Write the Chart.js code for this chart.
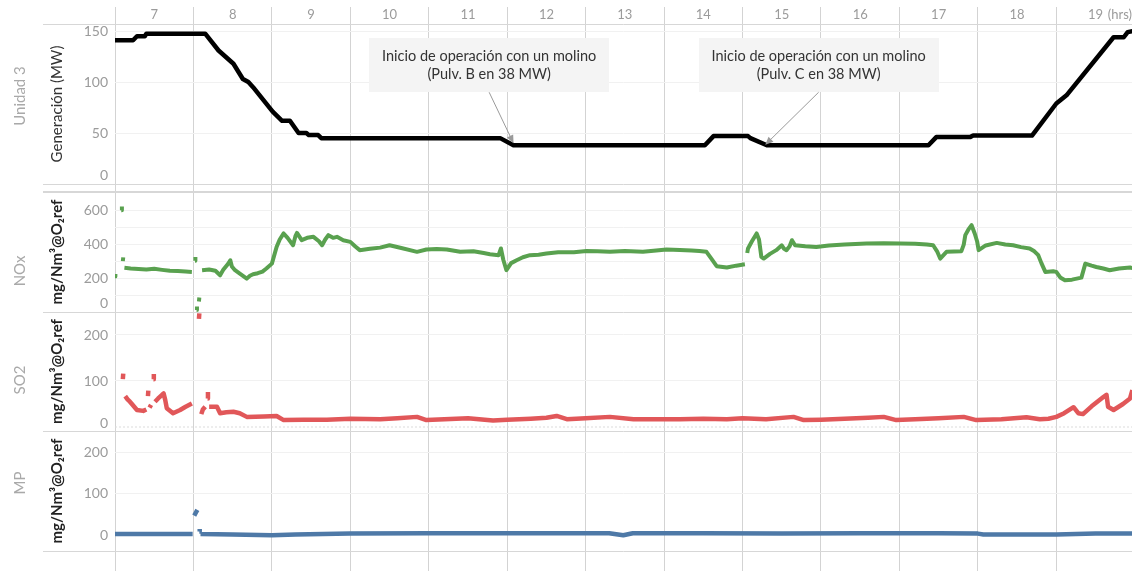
<!DOCTYPE html>
<html lang="es">
<head>
<meta charset="utf-8">
<title>Unidad 3 – generación y emisiones</title>
<script src="https://cdn.jsdelivr.net/npm/chart.js@4.4.1/dist/chart.umd.min.js"></script>
<style>
  html, body { margin: 0; padding: 0; background: #fff; }
  #lienzo { display: block; }
</style>
</head>
<body>
<canvas id="lienzo" width="1132" height="571"></canvas>
<script>
// ---- Datos ----------------------------------------------------------------
const horas = [7, 8, 9, 10, 11, 12, 13, 14, 15, 16, 17, 18, 19];

// Generación de la Unidad 3 (hora, MW)
const generacion = [
  [7.00, 141], [7.23, 141], [7.28, 145], [7.38, 145], [7.40, 147.5], [8.15, 147.5],
  [8.32, 131], [8.51, 118], [8.63, 103], [8.70, 100], [8.76, 95], [9.01, 71], [9.13, 62],
  [9.23, 62], [9.34, 50], [9.44, 50], [9.47, 48], [9.59, 48], [9.63, 45], [11.91, 45],
  [12.08, 38], [14.52, 38], [14.63, 47], [15.07, 47], [15.10, 45], [15.31, 38], [17.37, 38],
  [17.47, 46], [17.90, 46], [17.94, 47.5], [18.69, 47.5], [19.00, 79], [19.13, 87],
  [19.73, 144], [19.86, 144], [19.91, 149], [19.97, 150]
];

// NOx (hora, mg/Nm³@O₂ref); null = sin registro
const nox = [
  [7.000, 210], [7.005, 226], [7.010, null],
  [7.080, 603], [7.088, 626], [7.095, null],
  [7.100, 302], [7.105, 324], [7.110, null],
  [7.12, 262], [7.20, 258], [7.30, 255], [7.40, 252], [7.50, 256], [7.60, 250], [7.70, 245],
  [7.80, 243], [7.90, 240], [7.98, 238], [7.99, null],
  [8.020, 304], [8.025, 326], [8.030, null],
  [8.040, 12], [8.045, 32], [8.050, null],
  [8.070, 62], [8.075, 86], [8.080, null],
  [8.11, 248], [8.20, 252], [8.28, 245], [8.34, 218], [8.38, 250], [8.44, 285], [8.47, 307],
  [8.49, 270], [8.53, 248], [8.60, 225], [8.68, 198], [8.72, 215], [8.76, 224], [8.82, 230],
  [8.88, 240], [8.93, 258], [9.00, 287], [9.06, 386], [9.10, 430], [9.15, 466], [9.20, 440],
  [9.27, 396], [9.30, 450], [9.32, 469], [9.38, 426], [9.45, 440], [9.53, 446], [9.60, 420],
  [9.64, 396], [9.68, 430], [9.72, 456], [9.78, 440], [9.83, 446], [9.91, 426], [10.00, 416],
  [10.06, 390], [10.12, 367], [10.25, 375], [10.38, 382], [10.50, 396], [10.65, 380],
  [10.85, 357], [10.97, 371], [11.10, 374], [11.23, 371], [11.40, 357], [11.57, 361],
  [11.70, 350], [11.78, 343], [11.89, 337], [11.92, 377], [11.95, 310], [11.99, 248],
  [12.05, 290], [12.12, 307], [12.20, 325], [12.29, 337], [12.40, 340], [12.50, 347],
  [12.65, 355], [12.85, 355], [13.01, 362], [13.15, 360], [13.31, 357], [13.50, 362],
  [13.73, 357], [13.90, 365], [14.03, 371], [14.20, 368], [14.35, 365], [14.45, 362],
  [14.54, 357], [14.60, 318], [14.67, 272], [14.80, 264], [14.92, 275], [15.03, 283], [15.045, null],
  [15.06, 350], [15.07, 377], [15.12, 420], [15.18, 466], [15.21, 430], [15.24, 327],
  [15.27, 317], [15.35, 345], [15.43, 367], [15.50, 396], [15.53, 375], [15.56, 367],
  [15.60, 390], [15.63, 426], [15.67, 396], [15.80, 390], [15.94, 386], [16.10, 395],
  [16.30, 400], [16.58, 406], [16.80, 408], [17.01, 406], [17.20, 405], [17.35, 400],
  [17.43, 396], [17.48, 360], [17.52, 317], [17.60, 357], [17.79, 361], [17.82, 400],
  [17.84, 456], [17.88, 490], [17.92, 515], [17.96, 466], [17.99, 420], [18.01, 367],
  [18.10, 395], [18.24, 410], [18.35, 400], [18.45, 396], [18.55, 385], [18.66, 377],
  [18.72, 360], [18.77, 337], [18.81, 290], [18.86, 238], [18.96, 242], [19.00, 238],
  [19.05, 205], [19.11, 188], [19.20, 192], [19.32, 204], [19.37, 287], [19.45, 275],
  [19.51, 267], [19.60, 258], [19.68, 248], [19.80, 258], [19.94, 264], [19.97, 260]
];

// SO2 (hora, mg/Nm³@O₂ref)
const so2 = [
  [7.100, 104], [7.105, 116], [7.110, null],
  [7.13, 67], [7.16, 60], [7.19, 55], [7.21, 51], [7.28, 37], [7.36, 35], [7.40, 38], [7.41, null],
  [7.420, 67], [7.425, 79], [7.430, null],
  [7.44, 42], [7.46, 48], [7.48, null],
  [7.490, 104], [7.495, 115], [7.500, null],
  [7.51, 55], [7.55, 62], [7.60, 70], [7.62, 73], [7.64, 59], [7.66, 41], [7.74, 30],
  [7.83, 37], [7.90, 44], [7.98, 51], [7.99, null],
  [8.070, 235], [8.075, 247], [8.080, null],
  [8.10, 28], [8.12, 38], [8.15, 44], [8.16, null],
  [8.180, 62], [8.185, 76], [8.190, null],
  [8.20, 44], [8.30, 44], [8.34, 30], [8.42, 32], [8.51, 33], [8.59, 30], [8.68, 22],
  [8.90, 23], [9.06, 24], [9.15, 15], [9.40, 16], [9.70, 16], [10.00, 18], [10.38, 17],
  [10.60, 19], [10.85, 22], [10.97, 15], [11.20, 17], [11.50, 19], [11.82, 14], [12.00, 16],
  [12.30, 18], [12.50, 20], [12.63, 24], [12.76, 17], [13.00, 19], [13.31, 22], [13.61, 17],
  [13.90, 17], [14.20, 17], [14.50, 18], [14.80, 17], [15.00, 19], [15.30, 17], [15.65, 22],
  [15.78, 15], [16.00, 16], [16.30, 18], [16.60, 20], [16.80, 22], [16.96, 15], [17.20, 17],
  [17.50, 19], [17.82, 22], [17.98, 15], [18.30, 17], [18.62, 21], [18.79, 17], [18.90, 18],
  [19.00, 22], [19.10, 30], [19.22, 43], [19.28, 30], [19.34, 28], [19.45, 45], [19.60, 65],
  [19.64, 70], [19.66, 44], [19.73, 37], [19.85, 50], [19.94, 62], [19.97, 80]
];

// Material particulado (hora, mg/Nm³@O₂ref)
const mp = [
  [7.00, 4], [7.50, 4], [7.99, 4], [8.00, null],
  [8.01, 48], [8.03, 55], [8.05, 62], [8.06, null],
  [8.075, 10], [8.080, 16], [8.085, null],
  [8.09, 4], [8.50, 3], [9.00, 1], [9.30, 3], [10.00, 5], [11.00, 6], [12.00, 6], [12.50, 6],
  [13.30, 6], [13.48, 1], [13.60, 6], [14.50, 6], [15.50, 5], [16.50, 6], [17.00, 6],
  [17.50, 6], [18.00, 5], [18.07, 3], [18.50, 3], [19.00, 3], [19.50, 5], [19.97, 5]
];

// Marcas de eje
const ticksGen = [0, 50, 100, 150];
const ticksNox = [0, 200, 400, 600];
const lineasNox = [100, 300, 500];
const ticksSo2 = [0, 100, 200];
const ticksMp = [0, 100, 200];

// Textos
const filas = ['Unidad 3', 'NOx', 'SO2', 'MP'];
const tituloGen = 'Generación (MW)';
const tituloEmision = 'mg/Nm³@O₂ref';

// Notas sobre la curva de generación: [hora, MW] del borde superior de la caja y de la punta
const notas = [
  { texto: ['Inicio de operación con un molino', '(Pulv. B en 38 MW)'], caja: [11.77, 143], punta: [12.08, 40] },
  { texto: ['Inicio de operación con un molino', '(Pulv. C en 38 MW)'], caja: [15.97, 143], punta: [15.29, 38.5] }
];

// ---- Estilo ---------------------------------------------------------------
const FUENTE = 'Lato, "Noto Sans", sans-serif';
const GRIS_TEXTO = '#9b9b9b';
const GRIS_FILA = '#a9a9a9';
const GRIS_BORDE = '#d7d7d7';
const GRIS_TENUE = '#f1f1f1';
const GRIS_VERTICAL = '#d3d3d3';
const NADA = 'rgba(0,0,0,0)';
const X_MIN = 7, X_MAX = 19.965;

const pares = arr => arr.map(([x, y]) => ({ x, y }));

// Eje de un panel (columna interior: marcas + título de unidades)
function ejePanel({ peso, alto, min, max, etiquetas, lineas, bordes, grueso, alzaCero, titulo, negrita }) {
  const valores = [...new Set([...lineas, ...bordes, ...etiquetas])].sort((a, b) => a - b);
  const esBorde = c => c.tick && bordes.includes(c.tick.value);
  const esLinea = c => c.tick && lineas.includes(c.tick.value);
  return {
    type: 'linear', position: 'left', stack: 'interior', weight: peso, stackWeight: alto,
    min, max,
    afterBuildTicks: s => { s.ticks = valores.map(v => ({ value: v })); },
    afterFit: s => { s.width = 72; },
    border: { display: false },
    grid: {
      drawTicks: true, tickLength: 72,
      color: c => esBorde(c) ? GRIS_BORDE : (esLinea(c) ? GRIS_TENUE : NADA),
      tickColor: c => esBorde(c) ? GRIS_BORDE : NADA,
      lineWidth: c => (c.tick && c.tick.value === grueso) ? 2 : 1,
      tickWidth: c => (c.tick && c.tick.value === grueso) ? 2 : 1
    },
    ticks: {
      autoSkip: false, padding: -65, color: GRIS_TEXTO,
      font: c => ({ family: FUENTE, size: 14, lineHeight: (c.tick && c.tick.value === 0 && alzaCero) ? alzaCero : 1.2 }),
      callback: v => etiquetas.includes(v) ? ((v === 0 && alzaCero) ? ['0', ''] : String(v)) : ''
    },
    title: {
      display: true, text: titulo, color: negrita ? '#222' : '#333',
      font: { family: FUENTE, size: 15, weight: negrita ? 'bold' : 'normal' },
      padding: { top: 5, bottom: 0 }
    }
  };
}

// Hueco vacío dentro de una columna apilada
const hueco = (pila, peso, alto) => ({ type: 'linear', position: 'left', stack: pila, weight: peso, stackWeight: alto, display: false });

// Rótulo de fila (columna exterior)
function ejeFila(texto, peso, alto) {
  return {
    type: 'linear', position: 'left', stack: 'exterior', weight: peso, stackWeight: alto,
    afterFit: s => { s.width = 43; },
    ticks: { display: false }, grid: { display: false }, border: { display: false },
    title: { display: true, text: texto, color: GRIS_FILA, font: { family: FUENTE, size: 15 }, padding: { top: 11, bottom: 0 } }
  };
}

// Cajas de nota con flecha hacia la curva de generación
const pluginNotas = {
  id: 'notas',
  afterDatasetsDraw(chart) {
    const { ctx } = chart;
    const x = chart.scales.x, y = chart.scales.yGen;
    ctx.save();
    ctx.font = `14.5px ${FUENTE}`;
    for (const n of notas) {
      const cx = x.getPixelForValue(n.caja[0]);
      const top = y.getPixelForValue(n.caja[1]);
      const w = Math.max(...n.texto.map(t => ctx.measureText(t).width)) + 26;
      const h = 54;
      ctx.fillStyle = '#f4f4f4';
      ctx.fillRect(Math.round(cx - w / 2), Math.round(top), Math.round(w), h);
      ctx.fillStyle = '#333';
      ctx.textAlign = 'center';
      ctx.textBaseline = 'middle';
      n.texto.forEach((t, i) => ctx.fillText(t, cx, top + 18 + i * 18));

      const sx = cx, sy = top + h;
      const tx = x.getPixelForValue(n.punta[0]), ty = y.getPixelForValue(n.punta[1]);
      const ang = Math.atan2(ty - sy, tx - sx);
      ctx.strokeStyle = '#9a9a9a';
      ctx.lineWidth = 1;
      ctx.beginPath();
      ctx.moveTo(sx, sy);
      ctx.lineTo(tx - Math.cos(ang) * 5, ty - Math.sin(ang) * 5);
      ctx.stroke();
      ctx.fillStyle = '#9a9a9a';
      ctx.beginPath();
      ctx.moveTo(tx, ty);
      ctx.lineTo(tx - Math.cos(ang) * 8 + Math.sin(ang) * 3.5, ty - Math.sin(ang) * 8 - Math.cos(ang) * 3.5);
      ctx.lineTo(tx - Math.cos(ang) * 8 - Math.sin(ang) * 3.5, ty - Math.sin(ang) * 8 + Math.cos(ang) * 3.5);
      ctx.closePath();
      ctx.fill();
    }
    ctx.restore();
  }
};

const serie = (data, yAxisID, color, ancho) => ({
  data: pares(data), yAxisID, xAxisID: 'x', borderColor: color, backgroundColor: color,
  borderWidth: ancho, pointRadius: 0, tension: 0, spanGaps: false, fill: false,
  borderJoinStyle: 'round'
});

new Chart(document.getElementById('lienzo'), {
  type: 'line',
  data: {
    datasets: [
      { data: pares([[X_MIN, 0], [X_MAX, 0]]), yAxisID: 'ySo2', xAxisID: 'x', borderColor: '#dcdcdc',
        borderWidth: 1, borderDash: [2, 2], pointRadius: 0 },
      serie(generacion, 'yGen', '#000000', 4.5),
      serie(nox, 'yNox', '#59a14f', 4),
      serie(so2, 'ySo2', '#e15759', 4.5),
      serie(mp, 'yMp', '#4e79a7', 4.5)
    ]
  },
  options: {
    responsive: false,
    animation: false,
    events: [],
    devicePixelRatio: 1,
    layout: { padding: 0 },
    plugins: { legend: { display: false }, tooltip: { enabled: false } },
    scales: {
      x: {
        type: 'linear', position: 'top', min: X_MIN, max: X_MAX,
        afterBuildTicks: s => { s.ticks = horas.map(h => ({ value: h + 0.5 })); },
        afterFit: s => { s.height = 24; },
        ticks: {
          autoSkip: false, maxRotation: 0, padding: -16, color: GRIS_TEXTO,
          font: { family: FUENTE, size: 13 },
          callback: v => String(Math.floor(v))
        },
        grid: { offset: true, color: GRIS_VERTICAL, lineWidth: 1, drawTicks: true, tickLength: 17, tickColor: GRIS_VERTICAL },
        border: { display: false },
        title: { display: true, text: '(hrs)', align: 'end', color: GRIS_TEXTO, font: { family: FUENTE, size: 13 }, padding: { top: 7, bottom: 0 } }
      },
      // columna exterior: rótulos de fila
      fU: ejeFila(filas[0], 30, 144),
      fH1: hueco('exterior', 29, 58),
      fN: ejeFila(filas[1], 28, 90),
      fH2: hueco('exterior', 27, 24),
      fS: ejeFila(filas[2], 26, 80),
      fM: ejeFila(filas[3], 25, 126),
      fH3: hueco('exterior', 24, 25),
      // columna interior: un eje por panel
      yGen: ejePanel({ peso: 10, alto: 160, min: 0, max: 157, etiquetas: ticksGen, lineas: [50, 100, 150],
        bordes: [0, 157], grueso: null, alzaCero: 1.2, titulo: tituloGen, negrita: false }),
      yHueco: hueco('interior', 9, 8),
      yNox: ejePanel({ peso: 8, alto: 120, min: 0, max: 712, etiquetas: ticksNox, lineas: [...lineasNox, 200, 400, 600],
        bordes: [0, 712], grueso: 712, alzaCero: 1.2, titulo: tituloEmision, negrita: true }),
      ySo2: ejePanel({ peso: 7, alto: 119, min: -8.7, max: 250, etiquetas: ticksSo2, lineas: [100, 200],
        bordes: [], grueso: null, alzaCero: 0.57, titulo: tituloEmision, negrita: true }),
      yMp: ejePanel({ peso: 6, alto: 120, min: -36.7, max: 251, etiquetas: ticksMp, lineas: [100, 200],
        bordes: [-36.7, 251], grueso: null, alzaCero: 0, titulo: tituloEmision, negrita: true }),
      yPie: hueco('interior', 5, 20)
    }
  },
  plugins: [pluginNotas]
});
</script>
</body>
</html>
